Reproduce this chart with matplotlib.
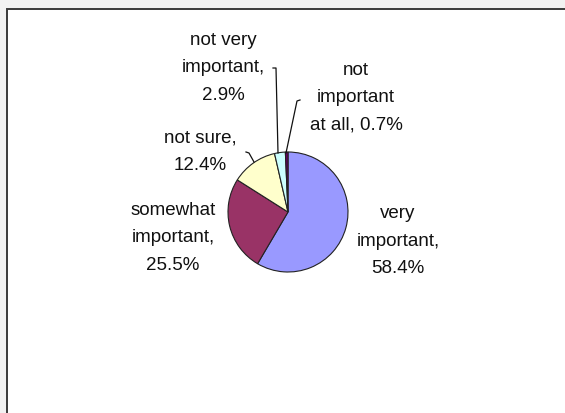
import matplotlib
matplotlib.use("Agg")
import matplotlib.pyplot as plt
from matplotlib.patches import Rectangle

# data
categories = ["very important", "somewhat important", "not sure",
              "not very important", "not important at all"]
shares = [58.4, 25.5, 12.4, 2.9, 0.7]
colors = ["#9999FF", "#993366", "#FFFFCC", "#CCFFFF", "#660066"]
label_texts = ["very\nimportant,\n58.4%", "somewhat\nimportant,\n25.5%",
               "not sure,\n12.4%", "not very\nimportant,\n2.9%",
               "not\nimportant\nat all, 0.7%"]

W, H = 565, 413
plt.rcParams['font.family'] = ['Liberation Sans', 'DejaVu Sans']

fig = plt.figure(figsize=(W / 100, H / 100), dpi=100)
fig.patch.set_facecolor("#f2f2f2")
ax = fig.add_axes([0, 0, 1, 1])
ax.set_xlim(0, W)
ax.set_ylim(0, H)
ax.axis("off")

# chart area frame (runs off the right and bottom)
ax.add_patch(Rectangle((7, -20), W + 20, H - 9 + 20, facecolor="white",
                       edgecolor="#3a3a3a", linewidth=1.4, zorder=0))

cx, cy, r = 288, H - 212, 60
ax.pie(shares, colors=colors, startangle=90, counterclock=False,
       center=(cx, cy), radius=r, frame=True,
       wedgeprops=dict(edgecolor="#222222", linewidth=0.8))
ax.set_xlim(0, W)
ax.set_ylim(0, H)
ax.set_aspect("equal")
ax.axis("off")

# label centres in pixel coords (from the top)
label_pos = [(398, 241), (173, 238), (200, 152), (223, 68), (356, 98)]
for txt, (x, y) in zip(label_texts, label_pos):
    ax.text(x, H - y, txt, ha="center", va="center", fontsize=13.5,
            linespacing=1.8, color="#111111")

# leader lines
leaders = [
    [(273, 68), (276, 68), (278, 153)],
    [(300, 100), (297, 101), (286, 153)],
    [(246, 152), (249, 153), (254, 162)],
]
for pts in leaders:
    xs = [p[0] for p in pts]
    ys = [H - p[1] for p in pts]
    ax.plot(xs, ys, color="#111111", linewidth=0.9)

fig.savefig("out.png", dpi=100, facecolor=fig.get_facecolor())
